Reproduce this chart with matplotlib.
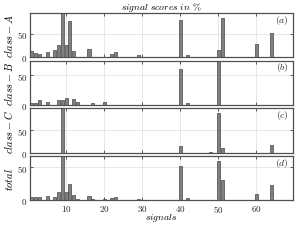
import numpy as np
import matplotlib
matplotlib.use("Agg")
from matplotlib import pyplot as plt
from matplotlib.ticker import FuncFormatter

plt.rcParams["mathtext.fontset"] = "cm"
plt.rcParams["font.family"] = "serif"

signals = np.arange(1, 70)

# signal number -> score (%), all others zero
class_a = {1: 13, 2: 10, 3: 7, 5: 12, 7: 16, 8: 26, 9: 95, 10: 27, 11: 77,
           12: 14, 13: 1.5, 16: 17, 19: 1.5, 22: 8, 23: 12, 29: 4,
           40: 80, 42: 4, 50: 16, 51: 84, 60: 28, 64: 52}
class_b = {1: 3.5, 2: 3.5, 3: 8, 5: 5, 8: 8.5, 9: 8.5, 10: 12, 12: 10,
           13: 4.5, 17: 4, 20: 5, 40: 61.5, 42: 4, 50: 75}
class_c = {9: 99, 40: 15, 48: 0.6, 50: 88, 51: 10, 64: 17}
total = {1: 5.7, 2: 5.7, 3: 5.7, 5: 6, 7: 5.5, 8: 12, 9: 67, 10: 13, 11: 25,
         12: 8, 13: 2, 16: 6, 17: 2.5, 19: 1, 20: 2, 22: 3, 23: 4.6, 29: 2,
         40: 51.5, 42: 3.6, 48: 0.6, 50: 58.7, 51: 31.4, 60: 9.8, 64: 23.7}

series = [class_a, class_b, class_c, total]
ylabels = [r"$class-A$", r"$class-B$", r"$class-C$", r"$total$"]
tags = ["(a)", "(b)", "(c)", "(d)"]

W, H = 299, 253
fig = plt.figure(figsize=(W / 100, H / 100), dpi=100)

left, right = 30, 293
tops = [14, 61.7, 109.3, 157]
ph = 44.3

fmt = FuncFormatter(lambda v, p: "$%g$" % v)

for i, (d, yl, tag) in enumerate(zip(series, ylabels, tags)):
  ax = fig.add_axes([left / W, 1 - (tops[i] + ph) / H, (right - left) / W, ph / H])
  vals = np.array([d.get(s, 0) for s in signals])
  ax.bar(signals, vals, width=0.8, color="#808080", edgecolor="#454545",
         linewidth=0.5, zorder=3)
  ax.set_xlim(0.5, 69.6)
  ax.set_ylim(0, vals.max())
  ax.set_yticks([0, 50])
  ax.set_xticks([10, 20, 30, 40, 50, 60])
  ax.grid(True, color="#e3e3e3", linewidth=0.6, zorder=0)
  ax.tick_params(direction="in", length=2, width=0.6, colors="#404040",
                 labelsize=6.5, pad=2, top=True, right=True)
  ax.tick_params(labelcolor="#262626")
  ax.yaxis.set_major_formatter(fmt)
  ax.xaxis.set_major_formatter(fmt)
  for sp in ax.spines.values():
    sp.set_color("#505050")
    sp.set_linewidth(0.9)
  ax.set_ylabel(yl, fontsize=7.5, labelpad=0)
  ax.yaxis.set_label_coords(-0.058, 0.5)
  ax.text(0.985, 0.86, "$" + tag + "$", transform=ax.transAxes,
          ha="right", va="center", fontsize=7, color="#262626")
  if i < 3:
    ax.set_xticklabels([])
  else:
    ax.set_xlabel(r"$signals$", fontsize=7, labelpad=-2)
  if i == 0:
    ax.set_title(r"$signal\ scores\ in\ \%$", fontsize=7, pad=2)

fig.savefig("out.png", dpi=100)
